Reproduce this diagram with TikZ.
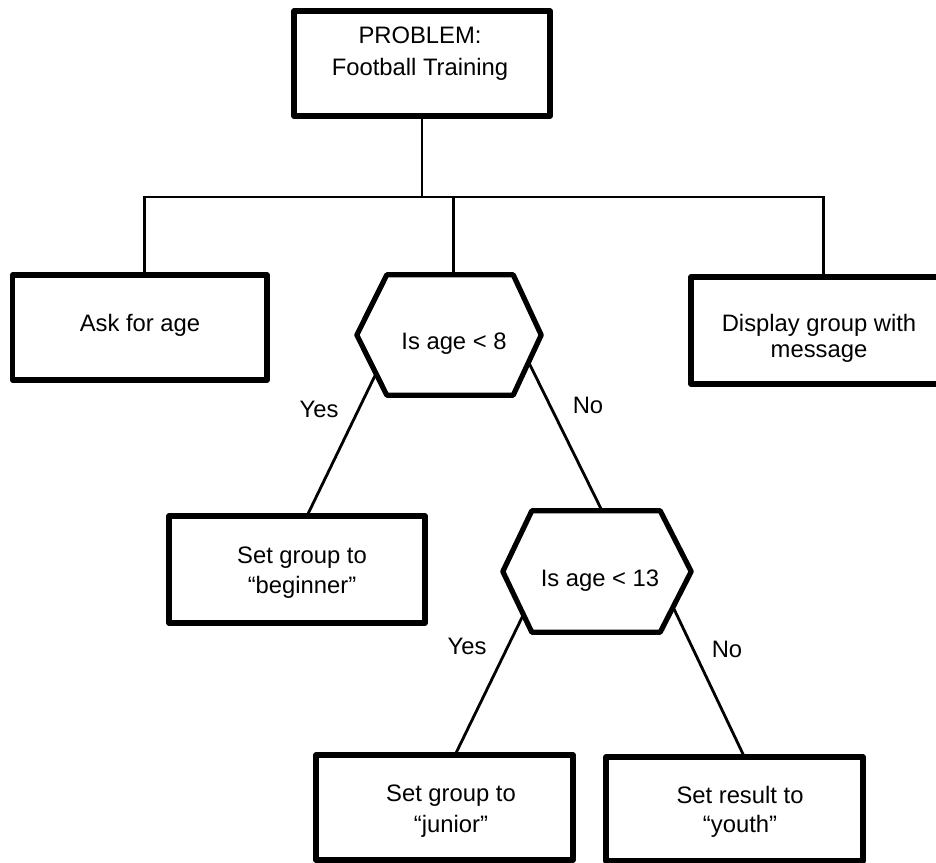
\documentclass[tikz,border=0pt]{standalone}
\usepackage{fontspec}
\setmainfont{Liberation Sans}
\usetikzlibrary{calc}
\tikzset{
  box/.style={draw, line width=5.2pt, line join=round, minimum width=256pt,
    minimum height=105pt, inner sep=0pt},
  core/.style={inner sep=0pt, minimum width=127pt, minimum height=120pt},
  hexline/.style={draw, line width=5.2pt, line join=round},
  link/.style={draw, line width=2.8pt},
  txt/.style={inner sep=0pt, anchor=base, align=center},
}
\newcommand{\lead}[1]{\fontsize{23.8}{#1}\selectfont}

\begin{document}
\begin{tikzpicture}[x=1pt,y=-1pt]
\useasboundingbox (0,0) rectangle (936,862);
\clip (0,0) rectangle (936,862);

% process boxes
\node[box] (top) at (422,63.5) {};
\node[box, minimum width=254.5pt] (ask) at (139.75,327.5) {};
\node[box, minimum height=107pt] (disp) at (819,330.5) {};
\node[box, minimum height=107pt] (beg) at (297,569.5) {};
\node[box, minimum width=257pt] (jun) at (444.5,807.5) {};
\node[box, minimum width=257pt, minimum height=104pt] (you) at (734.5,809) {};

% decision hexagons: a rectangular core plus two side tips
\node[core, minimum width=126pt] (q1) at (450,335) {};
\coordinate (q1w) at ($(q1.west)+(-30,0)$);
\coordinate (q1e) at ($(q1.east)+(28,0)$);
\draw[hexline] (q1.north west) -- (q1.north east) -- (q1e) -- (q1.south east)
  -- (q1.south west) -- (q1w) -- cycle;

\node[core, minimum width=128pt, minimum height=121pt] (q2) at (596,571.5) {};
\coordinate (q2w) at ($(q2.west)+(-29,0)$);
\coordinate (q2e) at ($(q2.east)+(31,0)$);
\draw[hexline] (q2.north west) -- (q2.north east) -- (q2e) -- (q2.south east)
  -- (q2.south west) -- (q2w) -- cycle;

% tree connectors below the problem box
\coordinate (bus) at (0,197);
\coordinate (askt) at ($(ask.north west)!0.517!(ask.north east)$);
\coordinate (q1t) at ($(q1.north west)!0.53!(q1.north east)$);
\coordinate (dispt) at ($(disp.north west)!0.516!(disp.north east)$);
\draw[link] (top.south) -- (top.south |- bus);
\draw[link] (askt) -- (askt |- bus) -- (dispt |- bus) -- (dispt);
\draw[link] (q1t) -- (q1t |- bus);

% decision branches
\draw[link] ($(q1w)!0.64!(q1.south west)$) -- ($(beg.north west)!0.543!(beg.north east)$);
\draw[link] ($(q1e)!0.45!(q1.south east)$) -- ($(q2.north west)!0.547!(q2.north east)$);
\draw[link] ($(q2w)!0.71!(q2.south west)$) -- ($(jun.north west)!0.545!(jun.north east)$);
\draw[link] ($(q2e)!0.585!(q2.south east)$) -- ($(you.north west)!0.533!(you.north east)$);

% texts (two-line nodes sit on the baseline of their last line)
\node[txt, font=\lead{32}] (topt) at (420,75) {PROBLEM:\\Football Training};
\node[txt, font=\lead{28}] (askx) at (140,331) {Ask for age};
\node[txt, font=\lead{28}] (q1x) at (454,349) {Is age < 8};
\node[txt, font=\lead{26}] (dispx) at (819,357) {Display group with\\message};
\node[txt, font=\lead{30}] (begx) at (302,593) {Set group to\\“beginner”};
\node[txt, font=\lead{28}] (q2x) at (600,586) {Is age < 13};
\node[txt, font=\lead{31}] (junx) at (451,832) {Set group to\\“junior”};
\node[txt, font=\lead{29}] (youx) at (740,832) {Set result to\\“youth”};

\node[txt, font=\lead{28}] (yes1) at (319,417) {Yes};
\node[txt, font=\lead{28}] (no1) at (588,413) {No};
\node[txt, font=\lead{28}] (yes2) at (467,654) {Yes};
\node[txt, font=\lead{28}] (no2) at (727,657) {No};
\end{tikzpicture}
\end{document}
